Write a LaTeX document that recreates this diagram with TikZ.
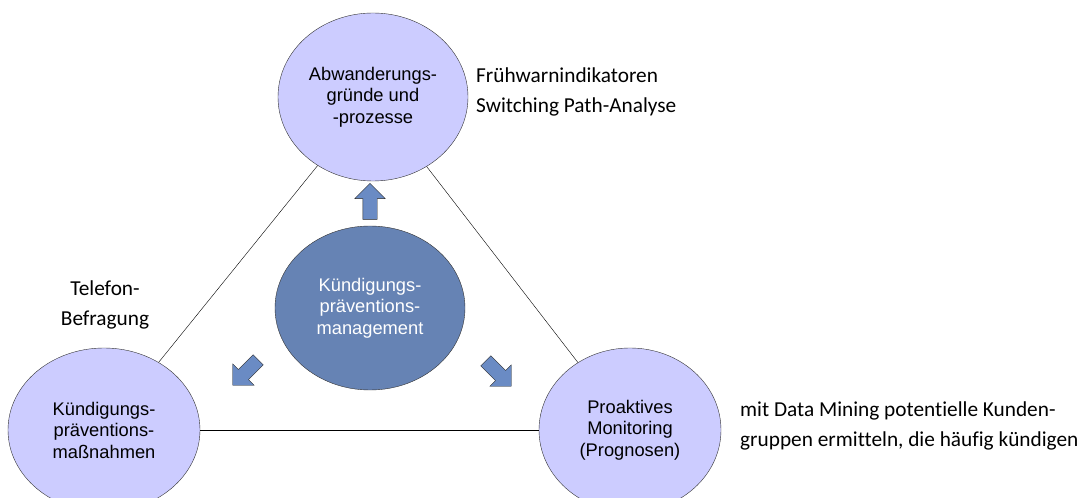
\documentclass[tikz,border=0pt]{standalone}
\usepackage{fontspec}
\setmainfont{Liberation Sans}
\newfontfamily\notefont[RawFeature={-liga;-dlig;-clig}]{Carlito}
\usetikzlibrary{positioning, shapes.arrows, shapes.geometric}
\definecolor{lila}{HTML}{CCCCFF}
\definecolor{stahlblau}{HTML}{6683B4}
\definecolor{pfeilblau}{HTML}{6A8BC4}
\tikzset{%
  topic/.style={draw=black!80, fill=lila, ellipse, inner sep=0pt, align=center,
    font=\fontsize{18.3}{21.5}\selectfont},
  kern/.style={topic, fill=stahlblau, text=white},
  blockpfeil/.style={single arrow, draw=black!85, fill=pfeilblau, inner sep=7pt,
    single arrow head extend=8pt, minimum height=36pt},
  notiz/.style={align=left, anchor=west, inner sep=0pt,
    font=\notefont\fontsize{21.3}{30}\selectfont}
}
\begin{document}
\begin{tikzpicture}[x=1pt, y=1pt]
\useasboundingbox (0,0) rectangle (1082,498);

% the three topics
\node[topic, minimum width=190pt, minimum height=168pt] (gruende) at (373,401) {Abwanderungs-\\gründe und\\-prozesse};
\node[topic, minimum width=192pt, minimum height=164pt] (massnahmen) at (104,68) {Kündigungs-\\präventions-\\maßnahmen};
\node[topic, minimum width=182pt, minimum height=164pt] (monitoring) at (630,68) {Proaktives\\Monitoring\\(Prognosen)};

% center
\node[kern, minimum width=190pt, minimum height=164pt] (kern) at (370,190) {Kündigungs-\\präventions-\\management};

\draw (gruende) -- (massnahmen);
\draw (gruende) -- (monitoring);
\draw (massnahmen) -- (monitoring);

% arrows out of the center
\node[blockpfeil, rotate=90] (p1) at (370,293) {};
\node[blockpfeil, rotate=225] (p2) at (248,128) {};
\node[blockpfeil, rotate=-45] (p3) at (496,127) {};

% notes
\node[notiz] (n1) at (476,406) {Frühwarnindikatoren\\Switching Path-Analyse};
\node[notiz, align=center, anchor=center] (n2) at (105,193) {Telefon-\\Befragung};
\node[notiz] (n3) at (740,72) {mit Data Mining potentielle Kunden-\\gruppen ermitteln, die häufig kündigen};

\end{tikzpicture}
\end{document}
